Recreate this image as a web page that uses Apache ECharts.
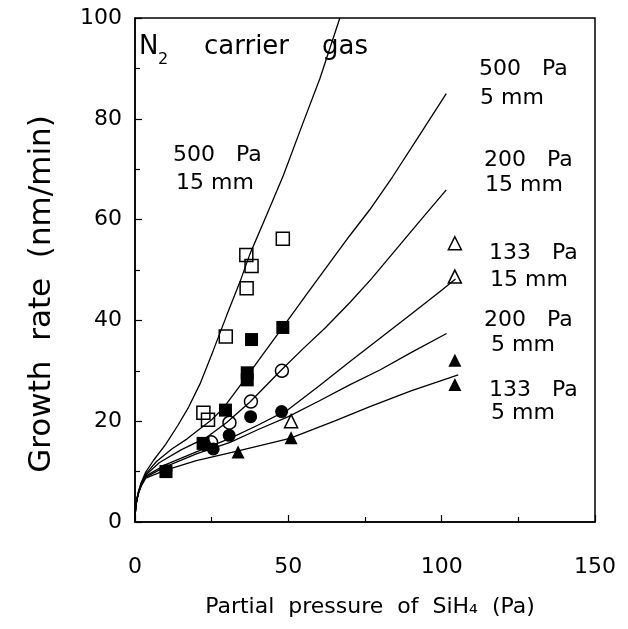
<!DOCTYPE html>
<html>
<head>
<meta charset="utf-8">
<script src="https://cdn.jsdelivr.net/npm/echarts@6/dist/echarts.min.js"></script>
<style>html,body{margin:0;padding:0;background:#fff;}#c{width:628px;height:629px;}</style>
</head>
<body>
<div id="c"></div>
<script>
// ---- data ----
const xTickLabels = [0, 50, 100, 150];
const yTickLabels = [0, 20, 40, 60, 80, 100];

// measured points
const openSquare500_15 = [[22.3,21.7],[23.8,20.3],[29.6,36.8],[36.3,53.0],[38.0,50.8],[36.4,46.4],[48.2,56.2]];
const filledSquare500_5 = [[10.1,10.0],[22.2,15.6],[29.5,22.2],[38.0,36.2],[36.6,29.6],[36.6,28.2],[48.2,38.6]];
const openCircle200_15 = [[24.8,15.8],[30.8,19.7],[37.8,23.9],[47.9,30.0]];
const filledCircle200_5 = [[10.1,10.2],[22.8,15.3],[25.5,14.5],[30.7,17.2],[37.7,20.9],[47.8,21.9]];
const openTriangle133_15 = [[50.9,20.0],[104.3,55.3],[104.3,48.7]];
const filledTriangle133_5 = [[10.1,10.2],[33.6,13.9],[50.9,16.7],[104.3,32.1],[104.3,27.3]];

// model curves
const curve500_15 = [[0,0],[0.1,1.8],[0.3,3.3],[0.6,4.6],[1.2,6.2],[2,7.8],[3.5,9.9],[6,12.2],[10,15.4],[14,19.2],[17.5,22.8],[21.2,27.4],[25.5,34.0],[29.9,41.0],[34.2,47.6],[37.5,53.2],[43,61.0],[48.4,68.8],[54.3,78.4],[60.3,88.0],[66.8,100]];
const curve500_5 = [[0,0],[0.1,1.8],[0.3,3.3],[0.6,4.6],[1.2,6.1],[2,7.6],[3.5,9.5],[7,12.0],[12,14.5],[17,16.5],[21.2,18.5],[25,20.3],[28.8,22.6],[32.5,25.6],[36.4,28.8],[42,33.5],[48.4,38.8],[56,45.2],[63,51.0],[70,56.8],[76.6,62.0],[84,68.5],[92,76.0],[101.5,85.0]];
const curve200_15 = [[0,0],[0.1,1.8],[0.3,3.3],[0.6,4.5],[1.2,6.0],[2,7.5],[3.5,9.3],[8,11.8],[15,14.3],[23.4,16.8],[30,19.8],[37.5,23.8],[47.8,30.2],[55,34.5],[62,38.5],[70,43.5],[77,48.2],[85,54.0],[93,59.8],[101.5,65.9]];
const curve133_15 = [[0,0],[0.1,1.8],[0.3,3.2],[0.6,4.4],[1.2,5.9],[2,7.3],[3.5,9.1],[10,11.4],[20,13.9],[31,16.6],[40,19.2],[50,22.3],[60,27.0],[70,31.8],[80,36.5],[90,41.2],[100,46.0],[104.5,48.2]];
const curve200_5 = [[0,0],[0.1,1.8],[0.3,3.2],[0.6,4.4],[1.2,5.9],[2,7.2],[3.5,8.9],[10,11.0],[20,13.5],[31,15.8],[40,18.3],[50,20.9],[60,24.0],[70,27.2],[80,30.2],[90,33.6],[101.6,37.4]];
const curve133_5 = [[0,0],[0.1,1.8],[0.3,3.2],[0.6,4.3],[1.2,5.8],[2,7.1],[3.5,8.7],[10,10.3],[20,12.2],[33,14.0],[50.5,16.6],[65,20.0],[76.6,22.9],[90,26.0],[105.4,29.2]];

const curveLabels = [
  ['500   Pa', '15 mm'],
  ['500   Pa', '5 mm'],
  ['200   Pa', '15 mm'],
  ['133   Pa', '15 mm'],
  ['200   Pa', '5 mm'],
  ['133   Pa', '5 mm']
];
const panelTitleParts = ['N', '2', 'carrier', 'gas'];
const xTitle = 'Partial  pressure  of  SiH\u2084  (Pa)';
const yTitle = 'Growth  rate  (nm/min)';

// ---- chart ----
const FONT = 'DejaVu Sans';
const chart = echarts.init(document.getElementById('c'), null, {renderer: 'canvas'});

function curveSeries(data) {
  return {
    type: 'line', data: data, showSymbol: false, symbol: 'none',
    smooth: false, clip: true, silent: true, z: 2,
    lineStyle: {color: '#000', width: 1.3}
  };
}
function pointSeries(data, symbol, filled, size) {
  return {
    type: 'scatter', data: data, symbol: symbol, symbolSize: size, z: 3, silent: true,
    itemStyle: {opacity: 1, color: filled ? '#000' : 'rgba(0,0,0,0)', borderColor: '#000', borderWidth: filled ? 0 : 1.5}
  };
}

// label anchor positions (left x, centre y of each line)
const lbl = [
  {x: 173, y1: 155, x2: 176, y2: 183, t: curveLabels[0]},
  {x: 479, y1: 69, x2: 480, y2: 98, t: curveLabels[1]},
  {x: 484, y1: 160, x2: 485, y2: 185, t: curveLabels[2]},
  {x: 489, y1: 253, x2: 490, y2: 280, t: curveLabels[3]},
  {x: 484, y1: 320, x2: 491, y2: 345, t: curveLabels[4]},
  {x: 489, y1: 390, x2: 491, y2: 413, t: curveLabels[5]}
];
const LF = '22px "' + FONT + '"';
const graphics = [];
lbl.forEach(function (o) {
  graphics.push({type: 'text', x: o.x, y: o.y1, style: {text: o.t[0], font: LF, fill: '#000', verticalAlign: 'middle'}});
  graphics.push({type: 'text', x: o.x2, y: o.y2, style: {text: o.t[1], font: LF, fill: '#000', verticalAlign: 'middle'}});
});
const TF = '26px "' + FONT + '"';
graphics.push({type: 'text', x: 139, y: 47, style: {text: panelTitleParts[0], font: TF, fill: '#000', verticalAlign: 'middle'}});
graphics.push({type: 'text', x: 158, y: 60, style: {text: panelTitleParts[1], font: '16px "' + FONT + '"', fill: '#000', verticalAlign: 'middle'}});
graphics.push({type: 'text', x: 204, y: 47, style: {text: panelTitleParts[2], font: TF, fill: '#000', verticalAlign: 'middle'}});
graphics.push({type: 'text', x: 322, y: 47, style: {text: panelTitleParts[3], font: TF, fill: '#000', verticalAlign: 'middle'}});
graphics.push({type: 'text', x: 370, y: 607, style: {text: xTitle, font: '22px "' + FONT + '"', fill: '#000', align: 'center', verticalAlign: 'middle'}});
graphics.push({type: 'text', x: 42, y: 294, rotation: Math.PI / 2, style: {text: yTitle, font: '31px "' + FONT + '"', fill: '#000', align: 'center', verticalAlign: 'middle'}});

const axisCommon = {
  axisLine: {show: true, lineStyle: {color: '#000', width: 1.5}},
  axisTick: {show: true, inside: true, length: 7, lineStyle: {color: '#000', width: 1.2}},
  minorTick: {show: true, splitNumber: 2, length: 5, lineStyle: {color: '#000', width: 1.2}},
  splitLine: {show: false},
  axisLabel: {color: '#000', fontFamily: FONT, fontSize: 22}
};

chart.setOption({
  animation: false,
  backgroundColor: '#fff',
  grid: {left: 135, right: 33, top: 18, bottom: 107, show: true, borderColor: '#000', borderWidth: 1.5, backgroundColor: 'transparent'},
  xAxis: Object.assign({}, axisCommon, {
    type: 'value', min: 0, max: 150, interval: 50,
    axisLabel: Object.assign({}, axisCommon.axisLabel, {margin: 34, formatter: function (v) { return xTickLabels.indexOf(v) >= 0 ? String(v) : ''; }})
  }),
  yAxis: Object.assign({}, axisCommon, {
    type: 'value', min: 0, max: 100, interval: 20,
    axisLabel: Object.assign({}, axisCommon.axisLabel, {margin: 13, formatter: function (v) { return yTickLabels.indexOf(v) >= 0 ? String(v) : ''; }})
  }),
  series: [
    curveSeries(curve500_15),
    curveSeries(curve500_5),
    curveSeries(curve200_15),
    curveSeries(curve133_15),
    curveSeries(curve200_5),
    curveSeries(curve133_5),
    pointSeries(openSquare500_15, 'rect', false, 13),
    pointSeries(filledSquare500_5, 'rect', true, 13),
    pointSeries(openCircle200_15, 'circle', false, 13),
    pointSeries(filledCircle200_5, 'circle', true, 13),
    pointSeries(openTriangle133_15, 'triangle', false, 13),
    pointSeries(filledTriangle133_5, 'triangle', true, 13)
  ],
  graphic: graphics
});
</script>
</body>
</html>
